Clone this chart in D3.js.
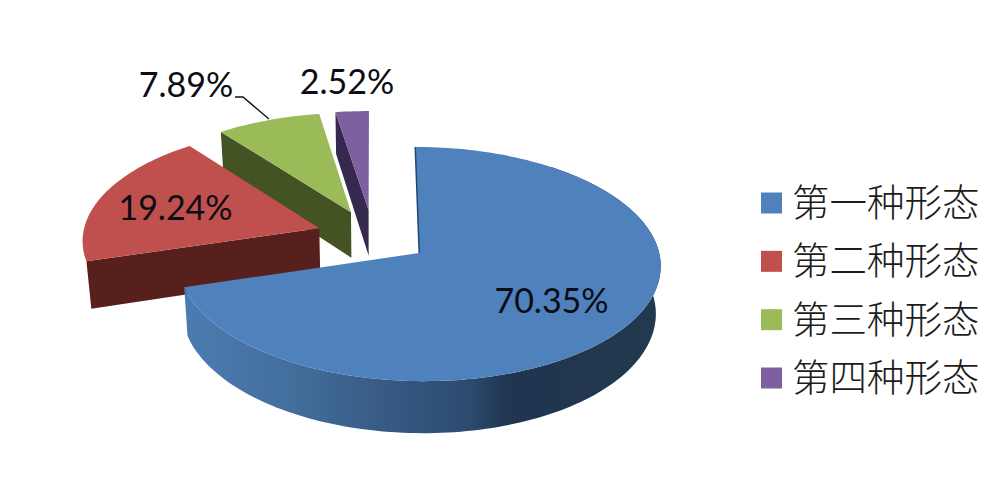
<!DOCTYPE html>
<html><head><meta charset="utf-8">
<script src="https://cdn.jsdelivr.net/npm/d3@7"></script>
<style>html,body{margin:0;padding:0;background:#fff;overflow:hidden}svg{display:block}</style>
</head><body><div id="chart"></div>
<script>
const categories = ["第一种形态","第二种形态","第三种形态","第四种形态"];
const shares = [70.35,19.24,7.89,2.52];
const shareLabels = ["70.35%","19.24%","7.89%","2.52%"];
const topColors = ["#4f81bd","#c0504d","#9bbb59","#7d60a0"];
const wallColors = ["#2f4f75","#57201d","#435322","#352a4e"];

const W=1000,H=478;
const svg=d3.select("#chart").append("svg").attr("width",W).attr("height",H).attr("viewBox",`0 0 ${W} ${H}`);

// Projection of the pie plane (unit radius) to the picture, with mild perspective
const cx=373,cy=236.6,rx=236.8,ry=113,k=0.093,explode=0.24,depth=46.5,shrink=0.983;
const px=(u,v,low)=>{const w=1-k*v;const X=cx+rx*u/w;return low?cx+(X-cx)*shrink:X;};
const py=(u,v,low)=>{const w=1-k*v;return cy+ry*v/w+(low?depth/w:0);};

const arcs=d3.pie().sort(null).value(d=>d)(shares);
const slices=arcs.map((a,i)=>{
  const mid=(a.startAngle+a.endAngle)/2;
  const ou=explode*Math.sin(mid),ov=-explode*Math.cos(mid);
  const apex=[ou,ov];
  const n=Math.max(6,Math.ceil((a.endAngle-a.startAngle)*40));
  const rim=d3.range(n+1).map(j=>{
    const t=a.startAngle+(a.endAngle-a.startAngle)*j/n;
    return [ou+Math.sin(t),ov-Math.cos(t),t];
  });
  return {i,a,apex,rim};
});
const line=d3.line().x(d=>d[0]).y(d=>d[1]);
const P=(p,low)=>[px(p[0],p[1],low),py(p[0],p[1],low)];

const defs=svg.append("defs");
const g=defs.append("linearGradient").attr("id","blueWall").attr("gradientUnits","userSpaceOnUse")
  .attr("x1",188).attr("x2",660).attr("y1",0).attr("y2",0);
[[0,"#4c7bb0"],[0.2,"#44709f"],[0.42,"#375a84"],[0.6,"#2b4a6e"],[0.68,"#1f3550"],[1,"#22394f"]]
  .forEach(s=>g.append("stop").attr("offset",s[0]).attr("stop-color",s[1]));

const wallFill=i=>i===0?"url(#blueWall)":wallColors[i];
[3,2,1,0].forEach(i=>{
  const s=slices[i];
  const G=svg.append("g");
  const fill=wallFill(i);
  if(i===0){
    // outer curved wall, started far enough back that the top face hides its start
    const pts=s.rim.filter(p=>p[2]>=Math.PI*0.2);
    const poly=pts.map(p=>P(p,false)).concat(pts.slice().reverse().map(p=>P(p,true)));
    G.append("path").attr("d",line(poly)+"Z").attr("fill",fill);
  } else {
    // radial wall running from the apex to the start of the rim
    const r=s.rim[0];
    const poly=[P(r,false),P(s.apex,false),P(s.apex,true),P(r,true)];
    G.append("path").attr("d",line(poly)+"Z").attr("fill",fill);
  }
  const top=[P(s.apex,false)].concat(s.rim.map(p=>P(p,false)));
  G.append("path").attr("d",line(top)+"Z").attr("fill",topColors[i]);
  if(i===0){
    G.append("path").attr("d",line([P(s.rim[0],false),P(s.apex,false)]))
      .attr("fill","none").attr("stroke","#24466e").attr("stroke-width",1.5);
  }
});

// Leader line for the third label
svg.append("path").attr("d",line([[235,97],[243,97],[269,119]])).attr("fill","none").attr("stroke","#111").attr("stroke-width",1.4);

// Data labels
const labelPos=[[551.5,313],[175.5,220],[186,97],[347,94]];
svg.selectAll("text.lab").data(shareLabels).join("text").attr("class","lab")
  .attr("x",(d,i)=>labelPos[i][0]).attr("y",(d,i)=>labelPos[i][1])
  .attr("text-anchor","middle").attr("font-family","Lato, 'Open Sans', sans-serif")
  .attr("font-size",34).attr("fill","#0c0c14").text(d=>d);

// Legend
const ly=d3.scalePoint().domain(categories).range([203,378]);
svg.selectAll("rect.sw").data(categories).join("rect").attr("class","sw")
  .attr("x",761).attr("y",d=>ly(d)-10.5).attr("width",21).attr("height",21)
  .attr("fill",(d,i)=>topColors[i]);
svg.selectAll("text.leg").data(categories).join("text").attr("class","leg")
  .attr("x",792).attr("y",d=>ly(d)+13).attr("font-family","'Noto Sans CJK SC', sans-serif")
  .attr("font-size",37.5).attr("font-weight",300).attr("fill","#1c1c1c").text(d=>d);
</script></body></html>
